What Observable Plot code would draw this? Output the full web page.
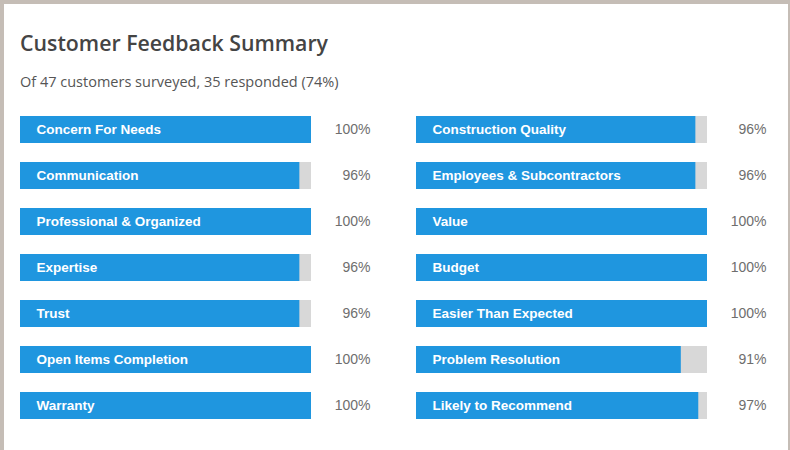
<!DOCTYPE html>
<html>
<head>
<meta charset="utf-8">
<script src="https://cdn.jsdelivr.net/npm/d3@7"></script>
<script src="https://cdn.jsdelivr.net/npm/@observablehq/plot@0.6"></script>
<style>
  html, body { margin: 0; padding: 0; background: #fff; }
  #wrap { position: relative; width: 790px; height: 450px; overflow: hidden; background: #fff; }
  #frame { position: absolute; left: 0; top: 0; width: 790px; height: 450px; box-sizing: border-box;
           border-top: 4px solid #c5bdb6; border-left: 4px solid #c5bdb6; border-right: 2px solid #c5bdb6; pointer-events: none; }
  #title { position: absolute; left: 20px; top: 29px; margin: 0; font-family: "Open Sans", sans-serif; font-weight: 600;
           font-size: 21.3px; color: #444; line-height: 28px; white-space: nowrap; }
  #subtitle { position: absolute; left: 20px; top: 72px; margin: 0; font-family: "Open Sans", sans-serif;
           font-size: 14.5px; color: #555; line-height: 20px; white-space: nowrap; }
  #chart { position: absolute; left: 0; top: 100px; }
</style>
</head>
<body>
<div id="wrap">
  <div id="title">Customer Feedback Summary</div>
  <div id="subtitle">Of 47 customers surveyed, 35 responded (74%)</div>
  <div id="chart"></div>
  <div id="frame"></div>
</div>
<script>
const leftCategories = ["Concern For Needs", "Communication", "Professional & Organized", "Expertise", "Trust", "Open Items Completion", "Warranty"];
const leftValues = [100, 96, 100, 96, 96, 100, 100];
const rightCategories = ["Construction Quality", "Employees & Subcontractors", "Value", "Budget", "Easier Than Expected", "Problem Resolution", "Likely to Recommend"];
const rightValues = [96, 96, 100, 100, 100, 91, 97];
const maxValue = 100;

const data = [
  ...leftCategories.map((label, i) => ({col: 0, row: i, label, value: leftValues[i]})),
  ...rightCategories.map((label, i) => ({col: 1, row: i, label, value: rightValues[i]}))
];

const chart = Plot.plot({
  width: 790,
  height: 350,
  marginLeft: 20,
  marginRight: 83,
  marginTop: 16,
  marginBottom: 30.5,
  style: {fontFamily: "Liberation Sans, Arial, sans-serif", background: "transparent"},
  facet: {data, x: "col", label: null},
  fx: {domain: [0, 1], paddingInner: 0.2652, paddingOuter: 0, align: 0, axis: null},
  x: {domain: [0, maxValue], axis: null},
  y: {domain: d3.range(leftCategories.length), paddingInner: 0.414, paddingOuter: 0, axis: null},
  marks: [
    Plot.barX(data, {y: "row", x1: 0, x2: maxValue, fill: "#d8d8d8"}),
    Plot.barX(data, {y: "row", x1: 0, x2: "value", fill: "#1f96df"}),
    Plot.text(data, {y: "row", x: 0, text: "label", textAnchor: "start", dx: 16, fill: "white", fontWeight: "bold", fontSize: 13.5}),
    Plot.text(data, {y: "row", x: maxValue, text: d => d.value + "%", textAnchor: "end", dx: 59, fill: "#6e6e6e", fontSize: 14})
  ]
});
document.getElementById("chart").appendChild(chart);
</script>
</body>
</html>
